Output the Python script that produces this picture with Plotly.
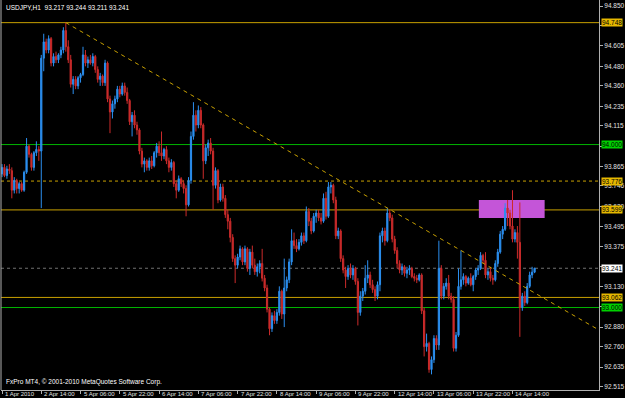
import plotly.graph_objects as go

# ---------------- data ----------------
opens = [
 93.82, 93.86, 93.81, 93.85, 93.84, 93.72, 93.78, 93.73, 93.76, 93.72,
 93.83, 93.99, 93.94, 93.86, 93.95, 93.97, 93.96, 94.53, 94.63, 94.58,
 94.65, 94.50, 94.54, 94.52, 94.55, 94.58, 94.70, 94.60, 94.52, 94.37,
 94.40, 94.36, 94.41, 94.43, 94.55, 94.50, 94.52, 94.50, 94.54, 94.46,
 94.40, 94.42, 94.38, 94.50, 94.28, 94.20, 94.25, 94.28, 94.34, 94.31,
 94.36, 94.32, 94.27, 94.14, 94.18, 94.12, 94.09, 93.96, 93.88, 93.90,
 93.86, 93.90, 93.87, 93.95, 93.99, 93.95, 93.93, 93.97, 93.90, 93.86,
 93.89, 93.76, 93.72, 93.79, 93.76, 93.73, 93.63, 93.78, 94.05, 94.18,
 94.12, 94.21, 94.12, 93.90, 93.98, 94.01, 93.96, 93.75, 93.84, 93.66,
 93.74, 93.67, 93.57, 93.53, 93.43, 93.30, 93.26, 93.31, 93.36, 93.28,
 93.36, 93.24, 93.34, 93.26, 93.22, 93.25, 93.27, 93.18, 93.12, 92.99,
 92.87, 92.95, 92.92, 92.97, 93.10, 92.96, 93.12, 93.17, 93.28, 93.41,
 93.38, 93.36, 93.40, 93.44, 93.41, 93.59, 93.53, 93.47, 93.56, 93.58,
 93.55, 93.53, 93.67, 93.56, 93.74, 93.75, 93.66, 93.44, 93.47, 93.30,
 93.23, 93.19, 93.24, 93.20, 93.24, 93.16, 92.97, 93.07, 93.10, 93.18,
 93.20, 93.14, 93.11, 93.07, 93.14, 93.44, 93.47, 93.41, 93.58, 93.55,
 93.42, 93.35, 93.27, 93.23, 93.25, 93.21, 93.23, 93.24, 93.19, 93.18,
 93.17, 93.20, 92.98, 92.76, 92.78, 92.62, 92.68, 92.81, 92.77, 93.24,
 93.07, 93.13, 93.15, 93.07, 93.05, 92.75, 92.83, 93.13, 93.17, 93.19,
 93.15, 93.18, 93.14, 93.19, 93.23, 93.24, 93.32, 93.29, 93.20, 93.22,
 93.18, 93.17, 93.27, 93.34, 93.45, 93.48, 93.61, 93.58, 93.50, 93.42,
 93.46, 93.40, 93.00, 93.07, 93.03, 93.13, 93.20, 93.217]
highs = [
 93.88, 93.88, 93.87, 93.88, 93.86, 93.80, 93.79, 93.77, 93.77, 93.84,
 94.04, 94.00, 93.95, 93.96, 94.02, 93.99, 94.55, 94.68, 94.65, 94.67,
 94.66, 94.56, 94.57, 94.56, 94.60, 94.72, 94.748, 94.64, 94.55, 94.42,
 94.42, 94.42, 94.44, 94.60, 94.58, 94.54, 94.55, 94.56, 94.55, 94.48,
 94.44, 94.43, 94.52, 94.51, 94.30, 94.27, 94.30, 94.36, 94.36, 94.38,
 94.38, 94.35, 94.28, 94.20, 94.21, 94.14, 94.10, 93.98, 93.92, 93.91,
 93.92, 93.93, 93.96, 94.01, 94.02, 94.08, 93.98, 93.99, 93.92, 93.91,
 93.90, 93.78, 93.81, 93.80, 93.78, 93.75, 93.80, 94.08, 94.26, 94.21,
 94.24, 94.23, 94.13, 94.00, 94.03, 94.04, 93.98, 93.86, 93.85, 93.76,
 93.76, 93.69, 93.60, 93.55, 93.45, 93.32, 93.33, 93.38, 93.37, 93.38,
 93.37, 93.36, 93.38, 93.30, 93.27, 93.29, 93.36, 93.20, 93.14, 93.00,
 92.97, 92.98, 92.99, 93.13, 93.11, 93.30, 93.19, 93.30, 93.48, 93.46,
 93.42, 93.42, 93.46, 93.46, 93.62, 93.61, 93.55, 93.58, 93.60, 93.60,
 93.58, 93.70, 93.71, 93.77, 93.77, 93.76, 93.68, 93.49, 93.48, 93.32,
 93.25, 93.26, 93.27, 93.26, 93.25, 93.18, 93.10, 93.12, 93.26, 93.29,
 93.22, 93.17, 93.13, 93.16, 93.46, 93.49, 93.49, 93.61, 93.60, 93.57,
 93.44, 93.37, 93.29, 93.27, 93.26, 93.25, 93.26, 93.25, 93.21, 93.20,
 93.21, 93.21, 93.00, 92.84, 92.79, 92.70, 92.83, 92.83, 93.41, 93.26,
 93.15, 93.18, 93.20, 93.09, 93.07, 92.85, 93.24, 93.35, 93.21, 93.20,
 93.19, 93.21, 93.20, 93.24, 93.26, 93.34, 93.33, 93.34, 93.24, 93.25,
 93.20, 93.29, 93.36, 93.47, 93.50, 93.64, 93.66, 93.60, 93.72, 93.48,
 93.50, 93.645, 93.09, 93.10, 93.15, 93.22, 93.25, 93.244]
lows = [
 93.80, 93.80, 93.79, 93.82, 93.67, 93.70, 93.70, 93.70, 93.71, 93.71,
 93.82, 93.92, 93.84, 93.84, 93.93, 93.90, 93.61, 94.45, 94.56, 94.56,
 94.48, 94.48, 94.50, 94.50, 94.53, 94.56, 94.57, 94.50, 94.35, 94.31,
 94.34, 94.34, 94.38, 94.42, 94.48, 94.47, 94.49, 94.48, 94.44, 94.38,
 94.36, 94.36, 94.36, 94.26, 94.07, 94.16, 94.22, 94.26, 94.29, 94.30,
 94.30, 94.25, 94.12, 94.05, 94.10, 94.06, 93.94, 93.86, 93.83, 93.84,
 93.84, 93.85, 93.86, 93.92, 93.93, 93.90, 93.91, 93.88, 93.83, 93.84,
 93.74, 93.67, 93.71, 93.74, 93.70, 93.56, 93.62, 93.76, 94.03, 94.08,
 94.10, 94.10, 93.79, 93.88, 93.93, 93.94, 93.60, 93.73, 93.64, 93.65,
 93.65, 93.55, 93.48, 93.40, 93.28, 93.15, 93.24, 93.29, 93.26, 93.26,
 93.22, 93.20, 93.24, 93.20, 93.19, 93.21, 93.16, 93.10, 92.97, 92.83,
 92.85, 92.90, 92.90, 92.95, 92.93, 92.88, 93.10, 93.15, 93.26, 93.36,
 93.34, 93.35, 93.38, 93.39, 93.40, 93.50, 93.45, 93.46, 93.52, 93.53,
 93.51, 93.52, 93.54, 93.55, 93.70, 93.64, 93.42, 93.42, 93.28, 93.21,
 93.12, 93.17, 93.18, 93.17, 93.14, 92.89, 92.95, 93.04, 93.08, 93.15,
 93.12, 93.09, 93.04, 93.05, 93.10, 93.40, 93.38, 93.40, 93.53, 93.40,
 93.33, 93.24, 93.21, 93.20, 93.19, 93.18, 93.20, 93.18, 93.16, 93.15,
 93.16, 92.96, 92.70, 92.73, 92.60, 92.59, 92.66, 92.74, 92.74, 93.05,
 93.05, 93.11, 93.05, 93.03, 92.73, 92.73, 92.82, 93.11, 93.14, 93.13,
 93.14, 93.13, 93.10, 93.17, 93.20, 93.23, 93.27, 93.18, 93.17, 93.16,
 93.14, 93.16, 93.25, 93.33, 93.42, 93.47, 93.50, 93.48, 93.40, 93.40,
 93.30, 92.82, 92.98, 93.01, 93.02, 93.12, 93.18, 93.211]
closes = [
 93.86, 93.81, 93.85, 93.84, 93.72, 93.78, 93.73, 93.76, 93.72, 93.83,
 93.99, 93.94, 93.86, 93.95, 93.97, 93.96, 94.53, 94.63, 94.58, 94.65,
 94.50, 94.54, 94.52, 94.55, 94.58, 94.70, 94.60, 94.52, 94.37, 94.40,
 94.36, 94.41, 94.43, 94.55, 94.50, 94.52, 94.50, 94.54, 94.46, 94.40,
 94.42, 94.38, 94.50, 94.28, 94.20, 94.25, 94.28, 94.34, 94.31, 94.36,
 94.32, 94.27, 94.14, 94.18, 94.12, 94.09, 93.96, 93.88, 93.90, 93.86,
 93.90, 93.87, 93.95, 93.99, 93.95, 93.93, 93.97, 93.90, 93.86, 93.89,
 93.76, 93.72, 93.79, 93.76, 93.73, 93.63, 93.78, 94.05, 94.18, 94.12,
 94.21, 94.12, 93.90, 93.98, 94.01, 93.96, 93.75, 93.84, 93.66, 93.74,
 93.67, 93.57, 93.53, 93.43, 93.30, 93.26, 93.31, 93.36, 93.28, 93.36,
 93.24, 93.34, 93.26, 93.22, 93.25, 93.27, 93.18, 93.12, 92.99, 92.87,
 92.95, 92.92, 92.97, 93.10, 92.96, 93.12, 93.17, 93.28, 93.41, 93.38,
 93.36, 93.40, 93.44, 93.41, 93.59, 93.53, 93.47, 93.56, 93.58, 93.55,
 93.53, 93.67, 93.56, 93.74, 93.75, 93.66, 93.44, 93.47, 93.30, 93.23,
 93.19, 93.24, 93.20, 93.24, 93.16, 92.97, 93.07, 93.10, 93.18, 93.20,
 93.14, 93.11, 93.07, 93.14, 93.44, 93.47, 93.41, 93.58, 93.55, 93.42,
 93.35, 93.27, 93.23, 93.25, 93.21, 93.23, 93.24, 93.19, 93.18, 93.17,
 93.20, 92.98, 92.76, 92.78, 92.62, 92.68, 92.81, 92.77, 93.24, 93.07,
 93.13, 93.15, 93.07, 93.05, 92.75, 92.83, 93.13, 93.17, 93.19, 93.15,
 93.18, 93.14, 93.19, 93.23, 93.24, 93.32, 93.29, 93.20, 93.22, 93.18,
 93.17, 93.27, 93.34, 93.45, 93.48, 93.61, 93.58, 93.50, 93.42, 93.46,
 93.40, 93.00, 93.07, 93.03, 93.13, 93.20, 93.217, 93.241]

bar_index = list(range(len(closes)))

time_tick_index = [0, 16, 32, 48, 64, 80, 96, 112, 128, 144, 160, 176, 192, 208]
time_tick_labels = ["1 Apr 2010", "2 Apr 14:00", "5 Apr 06:00", "5 Apr 22:00",
                    "6 Apr 14:00", "7 Apr 06:00", "7 Apr 22:00", "8 Apr 14:00",
                    "9 Apr 06:00", "9 Apr 22:00", "12 Apr 14:00", "13 Apr 06:00",
                    "13 Apr 22:00", "14 Apr 14:00"]

price_ticks = [94.850, 94.730, 94.605, 94.480, 94.360, 94.235, 94.115, 93.990,
               93.865, 93.746, 93.620, 93.495, 93.375, 93.250, 93.130, 93.005,
               92.880, 92.760, 92.635, 92.515]
# tick labels fully hidden behind a level label in the reference
hidden_ticks = [94.730, 93.990, 93.250, 93.005]

level_prices = [94.748, 94.000, 93.776, 93.599, 93.241, 93.062, 93.000]
level_kinds = ["yellow", "green", "yellow_dot", "yellow", "bid", "yellow", "green"]

trend_x = [26, 243.25]
trend_y = [94.748, 92.862]

rect_x = [194.3, 221.1]
rect_y = [93.549, 93.660]

# ---------------- styling ----------------
BLUE = "#2b8ff0"
RED = "#cc2b2b"
GOLD = "#c8a000"
GOLD_BG = "#e6b800"
GREEN = "#00b400"
GREEN_BG = "#00d000"
GREY = "#b0b0b0"
FONT = "Liberation Sans"

fig = go.Figure()

fig.add_trace(go.Scatter(x=trend_x, y=trend_y, mode="lines",
                         line=dict(color=GOLD, width=1, dash="4px,4px"),
                         hoverinfo="skip", showlegend=False))

fig.add_trace(go.Candlestick(
    x=bar_index, open=opens, high=highs, low=lows, close=closes,
    increasing=dict(line=dict(color=BLUE, width=1), fillcolor=BLUE),
    decreasing=dict(line=dict(color=RED, width=1), fillcolor=RED),
    whiskerwidth=0, hoverinfo="skip", showlegend=False))

shapes = []
shapes.append(dict(type="rect", xref="x", yref="y", x0=rect_x[0], x1=rect_x[1],
                   y0=rect_y[0], y1=rect_y[1], fillcolor="#c455d8",
                   line=dict(width=0), layer="below"))
annotations = []
for p, k in zip(level_prices, level_kinds):
    if k == "green":
        lc, dash, bg, fc = GREEN, "solid", GREEN_BG, "black"
    elif k == "yellow":
        lc, dash, bg, fc = GOLD, "solid", GOLD_BG, "black"
    elif k == "yellow_dot":
        lc, dash, bg, fc = GOLD, "dot", GOLD_BG, "black"
    else:
        lc, dash, bg, fc = "#707070", "dot", "#ffffff", "black"
    shapes.append(dict(type="line", xref="paper", yref="y", x0=0, x1=1, y0=p, y1=p,
                       line=dict(color=lc, width=1, dash=dash), layer="below"))
    annotations.append(dict(xref="paper", yref="y", x=1, y=p, xanchor="left",
                            yanchor="middle", xshift=2, text=f"{p:.3f}",
                            showarrow=False, bgcolor=bg, borderpad=0,
                            font=dict(family=FONT, size=6.5, color=fc)))

# left border
shapes.append(dict(type="line", xref="paper", yref="paper", x0=0, x1=0, y0=0, y1=1,
                   line=dict(color=GREY, width=1)))

for xi, lab in zip(time_tick_index, time_tick_labels):
    annotations.append(dict(xref="x", yref="paper", x=xi, y=0, xanchor="left",
                            yanchor="top", xshift=1, yshift=1, text=lab,
                            showarrow=False,
                            font=dict(family=FONT, size=6, color="#e0e0e0")))

title_txt = (f"USDJPY,H1  {opens[-1]:.3f} {highs[-1]:.3f} "
             f"{lows[-1]:.3f} {closes[-1]:.3f}")
annotations.append(dict(xref="paper", yref="paper", x=0, y=1, xanchor="left",
                        yanchor="top", xshift=3, yshift=-2, text=title_txt,
                        showarrow=False,
                        font=dict(family=FONT, size=6.5, color="#ffffff")))
annotations.append(dict(xref="paper", yref="paper", x=0, y=0, xanchor="left",
                        yanchor="bottom", xshift=3, yshift=2,
                        text="FxPro MT4, © 2001-2010 MetaQuotes Software Corp.",
                        showarrow=False,
                        font=dict(family=FONT, size=6.5, color="#ffffff")))

fig.update_layout(
    width=625, height=398, autosize=False,
    margin=dict(l=1, r=24, t=0, b=8, pad=0),
    paper_bgcolor="#000000", plot_bgcolor="#000000",
    shapes=shapes, annotations=annotations,
    showlegend=False,
    xaxis=dict(range=[-0.41, 243.25], showgrid=False, zeroline=False,
               showticklabels=False, ticks="outside", tickvals=time_tick_index,
               ticklen=3, tickcolor=GREY, showline=True, linecolor=GREY,
               linewidth=1, rangeslider=dict(visible=False), fixedrange=True),
    yaxis=dict(range=[92.494, 94.887], side="right", showgrid=False,
               zeroline=False, tickvals=price_ticks,
               ticktext=["" if v in hidden_ticks else f"{v:.3f}" for v in price_ticks],
               ticks="outside", ticklen=3, tickcolor=GREY,
               tickfont=dict(family=FONT, size=6.5, color="#e0e0e0"),
               showline=True, linecolor=GREY, linewidth=1, fixedrange=True),
)

fig.write_html("out.html")
